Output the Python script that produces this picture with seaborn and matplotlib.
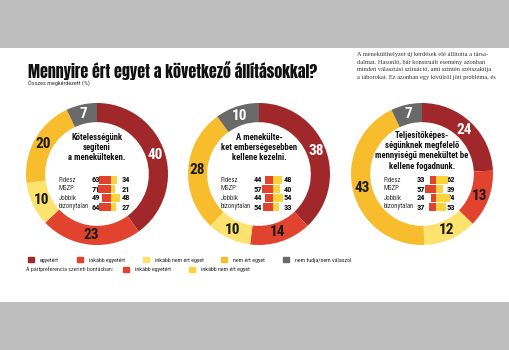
import numpy as np
import matplotlib
matplotlib.use('Agg')
import matplotlib.pyplot as plt
import seaborn as sns
from matplotlib.patches import Patch, Rectangle

sns.set_theme(style='white')
plt.rcParams['font.family'] = ['Roboto Condensed', 'DejaVu Sans']

# --- data -------------------------------------------------------------
categories = ['egyetért', 'inkább egyetért', 'inkább nem ért egyet',
              'nem ért egyet', 'nem tudja/nem válaszol']
q1_total = [40, 23, 10, 20, 7]
q2_total = [38, 14, 10, 28, 10]
q3_total = [24, 13, 12, 43, 7]

parties = ['Fidesz', 'MSZP', 'Jobbik', 'bizonytalan']
q1_agree = [63, 71, 49, 64]
q1_disagree = [34, 21, 48, 27]
q2_agree = [44, 57, 44, 54]
q2_disagree = [48, 40, 54, 33]
q3_agree = [33, 57, 24, 37]
q3_disagree = [62, 39, 74, 53]

q_titles = ['Kötelességünk\nsegíteni\na menekülteken.',
            'A menekülte-\nket emberségesebben\nkellene kezelni.',
            'Teljesítőképes-\nségünknek megfelelő\nmennyiségű menekültet be\nkellene fogadnunk.']

colors = ['#a0282a', '#e2432f', '#fce36e', '#f7bd2c', '#696969']
text_colors = ['white', '#1a1a1a', '#1a1a1a', '#1a1a1a', 'white']
mini_red = '#e2432f'
mini_yellow = '#f9d23c'
heavy = ['Anton', 'Oswald', 'Roboto Condensed', 'DejaVu Sans']

W, H = 510, 350
fig = plt.figure(figsize=(W / 100, H / 100), dpi=100)


def px_axes(x0, y0, w, h):
    return fig.add_axes([x0 / W, 1 - (y0 + h) / H, w / W, h / H])


bg = fig.add_axes([0, 0, 1, 1])
bg.set_xlim(0, W)
bg.set_ylim(H, 0)
bg.axis('off')
bg.add_patch(Rectangle((0, 0), W, 48, color='#bebebe', lw=0))
bg.add_patch(Rectangle((0, 302), W, 48, color='#bebebe', lw=0))

# title, scaled to the width it has in the reference
title = bg.text(28, 78, 'Mennyire ért egyet a következő állításokkal?', fontsize=15,
                family=heavy, color='#111111', va='baseline')
renderer = fig.canvas.get_renderer()
tw = title.get_window_extent(renderer).width
title.set_fontsize(15 * 290 / tw)
bg.text(28, 86, 'Összes megkérdezett (%)', fontsize=4.5, color='#333333', va='baseline')

# newspaper column on the right
column = ['A menekülthelyzet új kérdések elé állította a társa-',
          'dalmat. Hasonló, bár konstruált esemény azonban',
          'minden választási szituáció, ami szintén szétszakítja',
          'a táborokat. Ez azonban egy kívülről jött probléma, és']
for i, line in enumerate(column):
    t = bg.text(357, 56 + 7.6 * i, line, fontsize=4.6, family='Liberation Serif',
                color='#333333', va='baseline')
    lw = t.get_window_extent(renderer).width
    t.set_fontsize(4.6 * min(1.0, 146 / lw))

# --- donuts -----------------------------------------------------------
centers = [97, 259, 422]
cy, r = 174, 71
totals = [q1_total, q2_total, q3_total]
agrees = [q1_agree, q2_agree, q3_agree]
disagrees = [q1_disagree, q2_disagree, q3_disagree]

for k, cx in enumerate(centers):
    ax = px_axes(cx - r, cy - r, 2 * r, 2 * r)
    wedges, _ = ax.pie(totals[k], colors=colors, startangle=90, counterclock=False,
                       radius=1, wedgeprops=dict(width=0.27, linewidth=0))
    ax.set_xlim(-1, 1)
    ax.set_ylim(-1, 1)
    for w, v, tc in zip(wedges, totals[k], text_colors):
        ang = np.deg2rad((w.theta1 + w.theta2) / 2)
        ax.text(0.865 * np.cos(ang), 0.865 * np.sin(ang), str(v), ha='center',
                va='center', fontsize=11, fontweight='bold', color=tc)

    # statement inside
    n_lines = q_titles[k].count('\n') + 1
    top = 137 if n_lines == 3 else 135
    for j, line in enumerate(q_titles[k].split('\n')):
        bg.text(cx, top + 10.5 * j, line, ha='center', va='center', fontsize=6.2,
                fontweight='bold', color='#111111')

    # party breakdown
    for i, p in enumerate(parties):
        y = 180 + 9 * i
        bg.text(cx - 38, y, p, ha='left', va='center', fontsize=4.9, color='#333333')
        bg.text(cx + 3, y, str(agrees[k][i]), ha='right', va='center', fontsize=6,
                fontweight='bold', color='#111111')
        bg.text(cx + 25, y, str(disagrees[k][i]), ha='left', va='center', fontsize=6,
                fontweight='bold', color='#111111')

    mb = px_axes(cx + 14 - 15, 175.5, 30, 36)
    sns.barplot(x=[-a for a in agrees[k]], y=parties, orient='h', color=mini_red,
                width=0.95, ax=mb, saturation=1, linewidth=0)
    sns.barplot(x=disagrees[k], y=parties, orient='h', color=mini_yellow,
                width=0.95, ax=mb, saturation=1, linewidth=0)
    mb.set_xlim(-80, 80)
    mb.axis('off')

# --- legends ----------------------------------------------------------
handles = [Patch(color=c) for c in colors]
bg.legend(handles, categories, ncol=5, loc='upper left',
          bbox_to_anchor=(28 / W, 1 - 257 / H), bbox_transform=fig.transFigure,
          frameon=False, fontsize=4.3, handlelength=1.0, handleheight=1.0,
          handletextpad=1.0, columnspacing=3.0, borderpad=0, borderaxespad=0)

bg.text(26, 269.5, 'A pártpreferencia szerinti bontásban:', fontsize=4.3,
        color='#333333', va='center')
fig.legend([Patch(color=mini_red), Patch(color=mini_yellow)],
           ['inkább egyetért', 'inkább nem ért egyet'], ncol=2, loc='upper left',
           bbox_to_anchor=(123 / W, 1 - 266.5 / H), frameon=False, fontsize=4.3,
           handlelength=1.0, handleheight=1.0, handletextpad=1.0,
           columnspacing=3.0, borderpad=0, borderaxespad=0)

fig.savefig('out.png', dpi=100)
